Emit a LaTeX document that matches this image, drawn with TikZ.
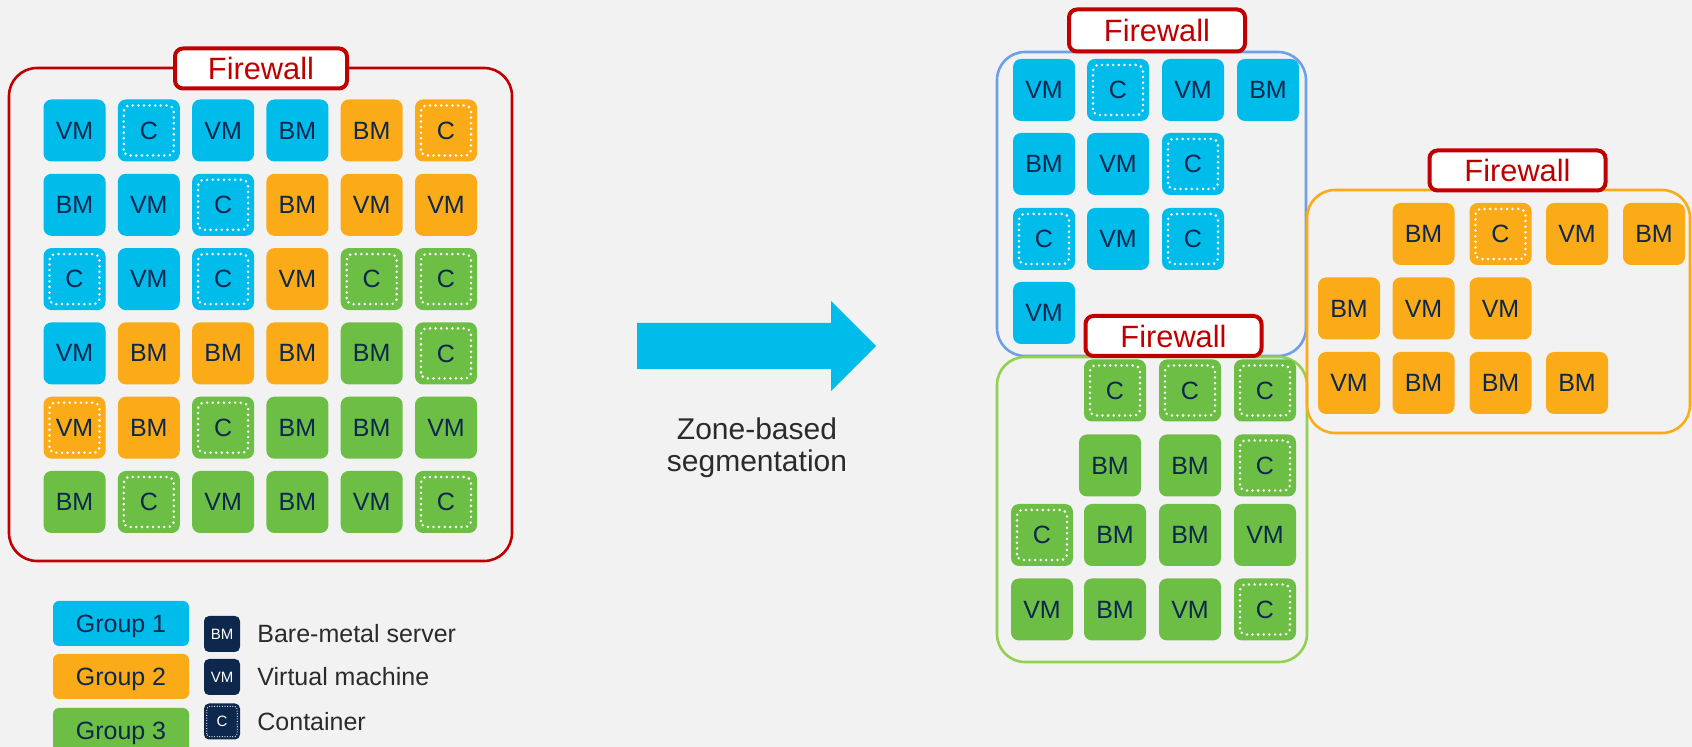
\documentclass[tikz,border=0pt]{standalone}
\usepackage{fontspec}
\setmainfont{Liberation Sans}
\definecolor{bg}{HTML}{F2F2F2}
\definecolor{cblue}{HTML}{00BCEB}
\definecolor{corange}{HTML}{FBAB18}
\definecolor{cgreen}{HTML}{6CBE45}
\definecolor{navy}{HTML}{0D274D}
\definecolor{fwred}{HTML}{C00000}
\definecolor{bluefr}{HTML}{6F9FE6}
\definecolor{greenfr}{HTML}{92D050}
\definecolor{txt}{HTML}{2B2B2B}
\begin{document}
\begin{tikzpicture}[x=0.5pt,y=-0.5pt,
  tilebox/.style={rectangle, rounded corners=4pt, minimum width=31pt, minimum height=31pt,
    inner sep=0pt, text=navy, font=\fontsize{12.5}{15}\selectfont},
  cdots/.style={white, line width=1.4pt, line cap=round, dash pattern=on 0pt off 2.8pt, rounded corners=3pt},
  ldots/.style={white, line width=0.6pt, line cap=round, dash pattern=on 0pt off 1.3pt, rounded corners=1.5pt},
  fwbox/.style={rectangle, draw=fwred, line width=2pt, fill=white, rounded corners=4pt,
    minimum width=86pt, minimum height=20pt, inner sep=0pt, text=fwred,
    font=\fontsize{15.4}{18}\selectfont},
  frame/.style={line width=1.3pt, rounded corners=14pt},
  grpbox/.style={rectangle, rounded corners=3pt, minimum width=68pt, minimum height=22.5pt,
    inner sep=0pt, text depth=0pt, text=navy, font=\fontsize{12.5}{15}\selectfont},
  iconbox/.style={rectangle, rounded corners=2.5pt, fill=navy, minimum width=18pt, minimum height=18pt,
    inner sep=0pt, text=white, font=\fontsize{7.5}{9}\selectfont},
  legtxt/.style={anchor=west, inner sep=0pt, text=txt, font=\fontsize{12.5}{15}\selectfont}
]
\useasboundingbox[fill=bg] (0,0) rectangle (1692,747);

% ---------- left frame ----------
\draw[frame, draw=fwred] (9,68) rectangle (512,561);
\foreach \c/\r/\col/\lab/\d [count=\n] in {
  1/1/cblue/VM/0, 2/1/cblue/C/1, 3/1/cblue/VM/0, 4/1/cblue/BM/0, 5/1/corange/BM/0, 6/1/corange/C/1,
  1/2/cblue/BM/0, 2/2/cblue/VM/0, 3/2/cblue/C/1, 4/2/corange/BM/0, 5/2/corange/VM/0, 6/2/corange/VM/0,
  1/3/cblue/C/1, 2/3/cblue/VM/0, 3/3/cblue/C/1, 4/3/corange/VM/0, 5/3/cgreen/C/1, 6/3/cgreen/C/1,
  1/4/cblue/VM/0, 2/4/corange/BM/0, 3/4/corange/BM/0, 4/4/corange/BM/0, 5/4/cgreen/BM/0, 6/4/cgreen/C/1,
  1/5/corange/VM/1, 2/5/corange/BM/0, 3/5/cgreen/C/1, 4/5/cgreen/BM/0, 5/5/cgreen/BM/0, 6/5/cgreen/VM/0,
  1/6/cgreen/BM/0, 2/6/cgreen/C/1, 3/6/cgreen/VM/0, 4/6/cgreen/BM/0, 5/6/cgreen/VM/0, 6/6/cgreen/C/1}{
  \node[tilebox, fill=\col] (L\n) at ({74.5+74.3*(\c-1)},{130.5+74.3*(\r-1)}) {\lab};
  \ifnum\d=1
    \draw[cdots] ([shift={(3.2pt,3.2pt)}]L\n.south west) rectangle ([shift={(-3.2pt,-3.2pt)}]L\n.north east);
  \fi
}
\node[fwbox] (fwL) at (261,68.5) {Firewall};

% ---------- arrow ----------
\fill[cblue] (637,323) -- (831,323) -- (831,301) -- (876,346) -- (831,391) -- (831,369) -- (637,369) -- cycle;
\node[align=center, inner sep=0pt, text=txt, font=\fontsize{15}{16}\selectfont] (zone) at (757,448)
  {Zone-based\\segmentation};

% ---------- right frames ----------
\draw[frame, draw=bluefr] (997,52) rectangle (1306,356);
\draw[frame, draw=greenfr] (997,357) rectangle (1307,662);
\draw[frame, draw=corange] (1307,190) rectangle (1690,433);

% blue zone
\foreach \x/\y/\lab/\d [count=\n] in {
  1044/90/VM/0, 1118/90/C/1, 1193/90/VM/0, 1268/90/BM/0,
  1044/164/BM/0, 1118/164/VM/0, 1193/164/C/1,
  1044/239/C/1, 1118/239/VM/0, 1193/239/C/1,
  1044/313/VM/0}{
  \node[tilebox, fill=cblue] (B\n) at (\x,\y) {\lab};
  \ifnum\d=1
    \draw[cdots] ([shift={(3.2pt,3.2pt)}]B\n.south west) rectangle ([shift={(-3.2pt,-3.2pt)}]B\n.north east);
  \fi
}
% green zone
\foreach \x/\y/\lab/\d [count=\n] in {
  1115/390.5/C/1, 1190/390.5/C/1, 1265/390.5/C/1,
  1110/465.5/BM/0, 1190/465.5/BM/0, 1265/465.5/C/1,
  1042/535/C/1, 1115/535/BM/0, 1190/535/BM/0, 1265/535/VM/0,
  1042/609.5/VM/0, 1115/609.5/BM/0, 1190/609.5/VM/0, 1265/609.5/C/1}{
  \node[tilebox, fill=cgreen] (G\n) at (\x,\y) {\lab};
  \ifnum\d=1
    \draw[cdots] ([shift={(3.2pt,3.2pt)}]G\n.south west) rectangle ([shift={(-3.2pt,-3.2pt)}]G\n.north east);
  \fi
}
% orange zone
\foreach \x/\y/\lab/\d [count=\n] in {
  1423.5/234/BM/0, 1500.5/234/C/1, 1577/234/VM/0, 1654/234/BM/0,
  1349/308.5/BM/0, 1423.5/308.5/VM/0, 1500.5/308.5/VM/0,
  1349/383/VM/0, 1423.5/383/BM/0, 1500.5/383/BM/0, 1577/383/BM/0}{
  \node[tilebox, fill=corange] (O\n) at (\x,\y) {\lab};
  \ifnum\d=1
    \draw[cdots] ([shift={(3.2pt,3.2pt)}]O\n.south west) rectangle ([shift={(-3.2pt,-3.2pt)}]O\n.north east);
  \fi
}
\node[fwbox, minimum width=88pt, minimum height=21pt] (fw1) at (1157,30.5) {Firewall};
\node[fwbox, minimum width=88pt, minimum height=20pt] (fw2) at (1517.5,170.5) {Firewall};
\node[fwbox, minimum width=88pt, minimum height=20pt] (fw3) at (1173.5,336) {Firewall};

% ---------- legend ----------
\node[grpbox, fill=cblue] (g1) at (121,623.5) {Group 1};
\node[grpbox, fill=corange] (g2) at (121,676.5) {Group 2};
\node[grpbox, fill=cgreen] (g3) at (121,730.5) {Group 3};
\node[iconbox] (iBM) at (222,634) {BM};
\node[iconbox] (iVM) at (222,677) {VM};
\node[iconbox] (iC) at (222,721.5) {C};
\draw[ldots] ([shift={(1.6pt,1.6pt)}]iC.south west) rectangle ([shift={(-1.6pt,-1.6pt)}]iC.north east);
\node[legtxt] (tBM) at (257,634) {Bare-metal server};
\node[legtxt] (tVM) at (257,677) {Virtual machine};
\node[legtxt] (tC) at (257,721.5) {Container};
\end{tikzpicture}
\end{document}
